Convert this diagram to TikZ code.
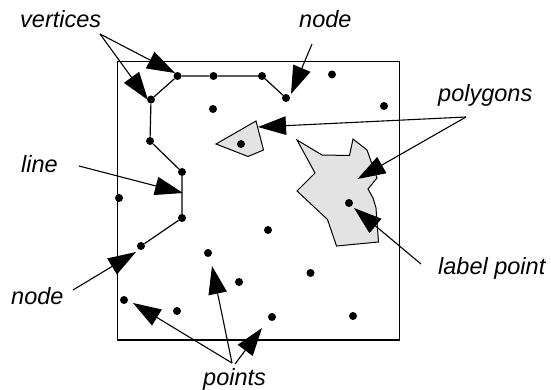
\documentclass[tikz,border=0pt]{standalone}
\usepackage{fontspec}
\setmainfont{Liberation Sans}
\usetikzlibrary{arrows.meta}
\definecolor{polygray}{gray}{0.89}

\tikzset{
    dot node/.style={circle,fill=black,inner sep=0,minimum size=8pt},
    label node/.style={inner sep=0,font=\fontsize{23.5}{28}\selectfont\itshape},
    poly/.style={draw,line width=1pt,fill=polygray,line join=miter},
    link/.style={line width=1.2pt},
    frame/.style={draw,line width=1.3pt},
    pointer/.style={line width=1.1pt,-{Triangle[length=28pt,width=18.5pt]}}
    }

\begin{document}
\begin{tikzpicture}[x=1pt,y=-1pt]
    \useasboundingbox (0,0) rectangle (551,390);
    % frame and polygons
    \draw[frame] (117.5,61.5) rectangle (399.5,340);
    \draw[poly] (216,144) -- (256,121) -- (263.5,150) -- (248,156.5) -- cycle;
    \draw[poly] (297,140) -- (322,155) -- (349.5,155.5) -- (353,139) -- (367,150)
        -- (377,178) -- (368,189) -- (373,198) -- (376,208) -- (378.5,242) -- (336.5,246)
        -- (327.5,219.5) -- (297,191) -- (315,173) -- cycle;
    % nodes of the line
    \node(a)[dot node] at (177.5,76) {};
    \node(b)[dot node] at (213.5,76) {};
    \node(c)[dot node] at (262,76) {};
    \node(d)[dot node] at (286,98) {};
    \node(e)[dot node] at (151,99.5) {};
    \node(f)[dot node] at (150,141) {};
    \node(g)[dot node] at (182,172) {};
    \node(h)[dot node] at (182,218) {};
    \node(i)[dot node] at (141,246) {};
    \draw[link] (d) -- (c) -- (b) -- (a) -- (e) -- (f) -- (g) -- (h) -- (i);
    % free points
    \foreach \name/\pos in {p1/{(119,198)},p2/{(213,109)},p3/{(332,74.5)},p4/{(384,106)},
        p5/{(241,144)},p6/{(349,203)},p7/{(268,230)},p8/{(208,253)},p9/{(239,282)},
        p10/{(177,311)},p11/{(124,300)},p12/{(310.5,273)},p13/{(272,317)},p14/{(353,316)}}
        \node(\name)[dot node] at \pos {};
    % labels
    \node(vertices)[label node,anchor=base west] at (20,27.5) {vertices};
    \node(nodetop)[label node,anchor=base west] at (299,27.5) {node};
    \node(polygons)[label node,anchor=base west] at (438,102) {polygons};
    \node(line)[label node,anchor=base west] at (21,173) {line};
    \node(labelpoint)[label node,anchor=base west] at (438,274) {label point};
    \node(nodeleft)[label node,anchor=base west] at (11,304) {node};
    \node(points)[label node,anchor=base west] at (203,385) {points};
    % pointers
    \coordinate(vs) at (100,34);
    \coordinate(ns) at (312,44);
    \coordinate(ps) at (466,117);
    \coordinate(ls) at (79,166);
    \coordinate(lps) at (421,264);
    \coordinate(nls) at (73,290);
    \coordinate(pts) at (232,363);
    \coordinate(ptr) at (235,364);
    \coordinate(at) at (175,73);
    \coordinate(et) at (148,100);
    \coordinate(dt) at (291,94);
    \coordinate(pst) at (258,127);
    \coordinate(bt) at (357.5,179);
    \coordinate(lt) at (183,193);
    \coordinate(lpt) at (354,208);
    \coordinate(it) at (136,252);
    \coordinate(ptl) at (133,303);
    \coordinate(ptm) at (212,266);
    \coordinate(ptb) at (262,328);
    \draw[pointer] (vs) -- (at);
    \draw[pointer] (vs) -- (et);
    \draw[pointer] (ns) -- (dt);
    \draw[pointer] (ps) -- (pst);
    \draw[pointer] (ps) -- (bt);
    \draw[pointer] (ls) -- (lt);
    \draw[pointer] (lps) -- (lpt);
    \draw[pointer] (nls) -- (it);
    \draw[pointer] (pts) -- (ptl);
    \draw[pointer] (pts) -- (ptm);
    \draw[pointer] (ptr) -- (ptb);
\end{tikzpicture}
\end{document}
